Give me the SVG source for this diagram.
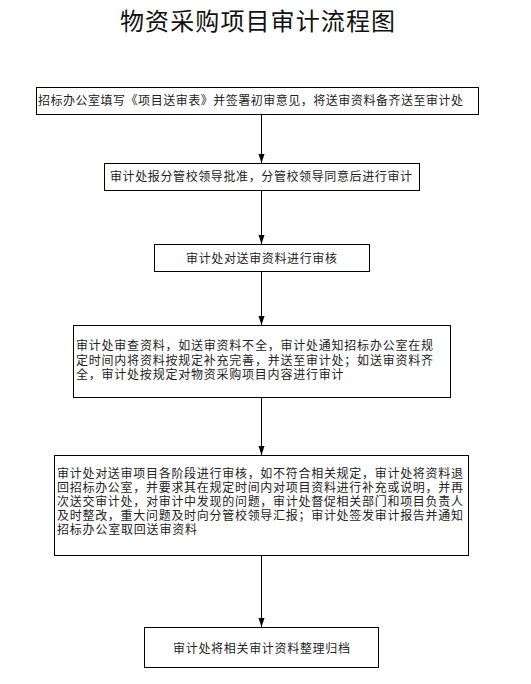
<svg xmlns="http://www.w3.org/2000/svg" width="531" height="684" viewBox="0 0 531 684">
  <defs>
    <style>
      .box { fill: #ffffff; stroke: #000000; stroke-width: 1; }
      .t { font-family: "Liberation Sans", "Noto Sans CJK SC", sans-serif; font-size: 12px; fill: #222222; }
      .title { font-family: "Liberation Sans", "Noto Sans CJK SC", sans-serif; font-size: 24px; fill: #111111; }
      .conn { stroke: #000000; stroke-width: 1; fill: none; marker-end: url(#arrow); }
    </style>
    <marker id="arrow" markerUnits="userSpaceOnUse" markerWidth="9" markerHeight="7" refX="9" refY="3.5" orient="auto" viewBox="0 0 9 7">
      <path d="M0,0.5 L9,3.5 L0,6.5 Z" fill="#000000"/>
    </marker>
  </defs>
  <rect width="531" height="684" fill="#ffffff"/>
  <text class="title" x="120" y="30" textLength="275" lengthAdjust="spacing">物资采购项目审计流程图</text>

  <g id="connectors">
    <line class="conn" x1="261.5" y1="114" x2="261.5" y2="163"/>
    <line class="conn" x1="261.5" y1="190" x2="261.5" y2="244"/>
    <line class="conn" x1="261.5" y1="271" x2="261.5" y2="325"/>
    <line class="conn" x1="261.5" y1="397" x2="261.5" y2="455"/>
    <line class="conn" x1="261.5" y1="555" x2="261.5" y2="627"/>
  </g>

  <g id="n1">
    <rect class="box" x="36.5" y="87.5" width="442" height="27"/>
    <text class="t" x="38" y="105" textLength="425" lengthAdjust="spacing">招标办公室填写《项目送审表》并签署初审意见，将送审资料备齐送至审计处</text>
  </g>
  <g id="n2">
    <rect class="box" x="104.5" y="163.5" width="315" height="27"/>
    <text class="t" x="110" y="181" textLength="302" lengthAdjust="spacing">审计处报分管校领导批准，分管校领导同意后进行审计</text>
  </g>
  <g id="n3">
    <rect class="box" x="154.5" y="244.5" width="215" height="27"/>
    <text class="t" x="186" y="263" textLength="151" lengthAdjust="spacing">审计处对送审资料进行审核</text>
  </g>
  <g id="n4">
    <rect class="box" x="73.5" y="325.5" width="377" height="72"/>
    <text class="t" x="76" y="350" textLength="357" lengthAdjust="spacing">审计处审查资料，如送审资料不全，审计处通知招标办公室在规</text>
    <text class="t" x="76" y="364.5" textLength="357" lengthAdjust="spacing">定时间内将资料按规定补充完善，并送至审计处；如送审资料齐</text>
    <text class="t" x="76" y="379" textLength="267.5" lengthAdjust="spacing">全，审计处按规定对物资采购项目内容进行审计</text>
  </g>
  <g id="n5">
    <rect class="box" x="54.5" y="455.5" width="414" height="100"/>
    <text class="t" x="57" y="477.5" textLength="406" lengthAdjust="spacing">审计处对送审项目各阶段进行审核，如不符合相关规定，审计处将资料退</text>
    <text class="t" x="57" y="491.7" textLength="406" lengthAdjust="spacing">回招标办公室，并要求其在规定时间内对项目资料进行补充或说明，并再</text>
    <text class="t" x="57" y="505.9" textLength="406" lengthAdjust="spacing">次送交审计处，对审计中发现的问题，审计处督促相关部门和项目负责人</text>
    <text class="t" x="57" y="520.1" textLength="406" lengthAdjust="spacing">及时整改，重大问题及时向分管校领导汇报；审计处签发审计报告并通知</text>
    <text class="t" x="57" y="534.3" textLength="140" lengthAdjust="spacing">招标办公室取回送审资料</text>
  </g>
  <g id="n6">
    <rect class="box" x="144.5" y="627.5" width="234" height="40"/>
    <text class="t" x="173" y="653" textLength="177" lengthAdjust="spacing">审计处将相关审计资料整理归档</text>
  </g>
</svg>
